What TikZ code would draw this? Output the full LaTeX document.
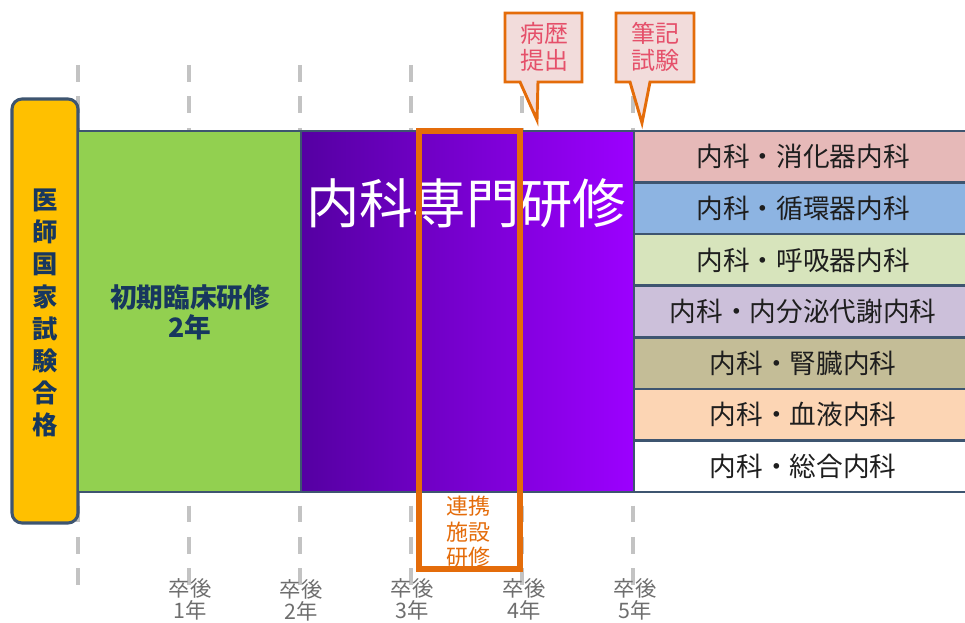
\documentclass[tikz,border=0pt]{standalone}
\usepackage{fontspec}
\setmainfont{Noto Sans CJK JP}
\definecolor{gridgray}{HTML}{C3C3C3}
\definecolor{borderc}{HTML}{3E5570}
\definecolor{passc}{HTML}{FFC000}
\definecolor{greenc}{HTML}{92D050}
\definecolor{purpleL}{HTML}{5500A2}
\definecolor{purpleR}{HTML}{9C00FF}
\definecolor{orangec}{HTML}{E46C0A}
\definecolor{navyc}{HTML}{17375E}
\definecolor{calloutfill}{HTML}{F2DCDB}
\definecolor{callouttext}{HTML}{E5506A}
\definecolor{rowtxt}{HTML}{1E1E1E}
\definecolor{yeartxt}{HTML}{6E6E6E}
\definecolor{rowA}{HTML}{E6B9B8}
\definecolor{rowB}{HTML}{8DB4E2}
\definecolor{rowC}{HTML}{D7E4BC}
\definecolor{rowD}{HTML}{CCC0DA}
\definecolor{rowE}{HTML}{C4BD97}
\definecolor{rowF}{HTML}{FCD5B4}
\definecolor{rowG}{HTML}{FFFFFF}
\begin{document}
\begin{tikzpicture}[x=0.75pt,y=-0.75pt,
  gridline/.style={draw=gridgray, line width=3pt, dash pattern=on 12.4pt off 11.2pt},
  blockline/.style={draw=borderc, line width=1.9pt},
  rowtext/.style={font=\fontsize{20}{22}\selectfont, text=rowtxt, inner sep=0pt},
  navytext/.style={font=\bfseries\fontsize{20}{22.5}\selectfont, text=navyc, align=center, inner sep=0pt},
  callbox/.style={draw=orangec, line width=2.2pt, fill=calloutfill, line join=miter},
  calltext/.style={font=\fontsize{18}{20.5}\selectfont, text=callouttext, align=center, inner sep=0pt},
  yeartext/.style={font=\fontsize{16}{16.5}\selectfont, text=yeartxt, align=center, inner sep=0pt}]
\useasboundingbox (0,0) rectangle (965,623);

% vertical dashed year lines
\foreach \gx in {78,189,300,411,522,633}
  \draw[gridline] (\gx,65) -- (\gx,585);

% callouts
\coordinate (c1tip) at (537,120);
\coordinate (c2tip) at (642,123);
\draw[callbox] (505,13) -- (582,13) -- (582,82) -- (538,82) -- (c1tip) -- (520,82) -- (505,82) -- cycle;
\draw[callbox] (616,13) -- (694,13) -- (694,82) -- (650,82) -- (c2tip) -- (630,82) -- (616,82) -- cycle;
\node[calltext] (hist) at (544,47) {病歴\\提出};
\node[calltext] (exam) at (655,47) {筆記\\試験};

% national exam pass
\draw[blockline, line width=2.3pt, fill=passc, rounded corners=7.5pt] (12,99) rectangle (78,523);
\node[font=\bfseries\fontsize{19}{24.1}\selectfont, text=navyc, align=center, inner sep=0pt] (pass) at (45,313)
  {医\\師\\国\\家\\試\\験\\合\\格};

% initial training
\draw[blockline, fill=greenc] (78,131) rectangle (301,492);
\node[navytext] (initial) at (190,312) {初期臨床研修\\2年};

% specialist training
\shade[left color=purpleL, right color=purpleR] (301,131) rectangle (634,492);
\draw[blockline] (301,131) rectangle (634,492);
\node[font=\fontsize{40}{44}\selectfont, text=white, inner sep=0pt] (spec) at (466,203) {内科専門研修};

% subspecialty stack
\foreach \i/\c/\t in {0/rowA/内科・消化器内科, 1/rowB/内科・循環器内科, 2/rowC/内科・呼吸器内科,
    3/rowD/内科・内分泌代謝内科, 4/rowE/内科・腎臓内科, 5/rowF/内科・血液内科, 6/rowG/内科・総合内科} {
  \draw[blockline, fill=\c] (634,{131+\i*51.57}) rectangle (968,{131+(\i+1)*51.57});
  \node[rowtext] (row\i) at (803,{131+(\i+0.5)*51.57}) {\t};
}

% affiliated facility training
\draw[draw=orangec, line width=4.5pt] (418.5,131.5) rectangle (520,569);
\node[font=\fontsize{16.5}{19.2}\selectfont, text=orangec, align=center, inner sep=0pt] (affil) at (468,532)
  {連携\\施設\\研修};

% year labels
\node[yeartext] (y1) at (190,599) {卒後\\1年};
\node[yeartext] (y2) at (301,600) {卒後\\2年};
\node[yeartext] (y3) at (412,599) {卒後\\3年};
\node[yeartext] (y4) at (524,599) {卒後\\4年};
\node[yeartext] (y5) at (635,599) {卒後\\5年};
\end{tikzpicture}
\end{document}
